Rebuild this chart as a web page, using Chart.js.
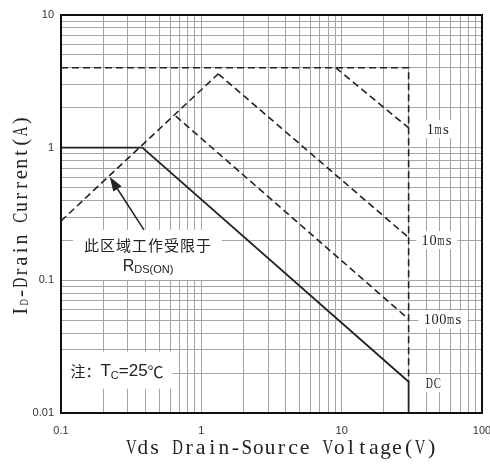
<!DOCTYPE html>
<html>
<head>
<meta charset="utf-8">
<script src="https://cdn.jsdelivr.net/npm/chart.js@4"></script>
<style>
  html, body { margin: 0; padding: 0; background: #fff; }
  #wrap { width: 490px; height: 468px; position: relative; }
</style>
</head>
<body>
<div id="wrap"><canvas id="soaChart"></canvas></div>
<script>
// SOA curves (V in volts, I in amps)
const dcV = [0.1, 0.38, 30, 30];
const dcI = [1, 1, 0.0172, 0.01];
const rdsV = [0.1, 1.32];
const rdsI = [0.28, 3.6];
const limitV = [0.1, 30, 30];
const limitI = [4, 4, 0.0172];
const ms1V = [9.1, 30];
const ms1I = [4, 1.41];
const ms10V = [1.32, 30];
const ms10I = [3.6, 0.21];
const ms100V = [0.657, 30];
const ms100I = [1.73, 0.051];

const xTickLabels = [0.1, 1, 10, 100];
const yTickLabels = [0.01, 0.1, 1, 10];
const curveLabels = ["1ms", "10ms", "100ms", "DC"];

const toPts = (xs, ys) => xs.map((x, i) => ({ x: x, y: ys[i] }));

// grid lines at 1..9 of every decade
function decadeGrid(lo, hi) {
    const out = [];
    for (let p = lo; p < hi; p++) {
        for (let m = 1; m <= 9; m++) out.push(Number((m * Math.pow(10, p)).toPrecision(3)));
    }
    out.push(Number(Math.pow(10, hi).toPrecision(3)));
    return out;
}

const ink = "#222";
const serif = "'Liberation Serif', 'DejaVu Serif', serif";
const sans = "'Liberation Sans', Arial, sans-serif";
const cjk = "'Noto Sans CJK SC', sans-serif";

function line(label, xs, ys, dashed, width) {
    return {
        label: label,
        data: toPts(xs, ys),
        showLine: true,
        borderColor: ink,
        borderWidth: width || 1.6,
        borderDash: dashed ? [7, 4] : [],
        pointRadius: 0,
        fill: false,
        tension: 0
    };
}

// proportional runs (for subscripts)
function drawRuns(ctx, runs, x, y, align) {
    let w = 0;
    runs.forEach(r => { ctx.font = r.font; w += ctx.measureText(r.t).width; });
    let cx = align === "center" ? x - w / 2 : x;
    ctx.textBaseline = "middle";
    ctx.textAlign = "left";
    runs.forEach(r => {
        ctx.font = r.font;
        ctx.fillText(r.t, cx, y + (r.dy || 0));
        cx += ctx.measureText(r.t).width;
    });
}

// fixed-pitch serif text, every glyph squeezed into its cell (like SimSun latin)
function monoWidth(runs) {
    return runs.reduce((s, r) => s + r.t.length * r.pitch, 0);
}
function drawMono(ctx, runs, cx, cy) {
    let x = cx - monoWidth(runs) / 2;
    ctx.textAlign = "center";
    ctx.textBaseline = "middle";
    runs.forEach(r => {
        ctx.font = r.size + "px " + serif;
        for (const ch of r.t) {
            const w = ctx.measureText(ch).width;
            const s = Math.min(1, (r.pitch * 0.92) / w);
            ctx.save();
            ctx.translate(x + r.pitch / 2, cy + (r.dy || 0));
            ctx.scale(s, 1);
            ctx.fillText(ch, 0, 0);
            ctx.restore();
            x += r.pitch;
        }
    });
}

function whiteBox(ctx, x0, y0, x1, y1) {
    ctx.fillStyle = "#fff";
    ctx.fillRect(x0, y0, x1 - x0, y1 - y0);
}

const soaDecor = {
    id: "soaDecor",
    beforeDatasetsDraw(chart) {
        const { ctx, scales: { x, y } } = chart;
        ctx.save();

        // note about R_DS(on) limit
        const nx = x.getPixelForValue(0.417);
        const ny = y.getPixelForValue(0.185);
        whiteBox(ctx, nx - 75, ny - 15, nx + 74, ny + 35);
        ctx.fillStyle = ink;
        ctx.textAlign = "center";
        ctx.textBaseline = "middle";
        ctx.font = "15px " + cjk;
        ctx.letterSpacing = "1px";
        ctx.fillText("此区域工作受限于", nx, ny);
        ctx.letterSpacing = "0px";
        drawRuns(ctx, [
            { t: "R", font: "16px " + sans },
            { t: "DS(ON)", font: "11px " + sans, dy: 3 }
        ], nx, y.getPixelForValue(0.126), "center");

        // Tc note
        const tx = x.getPixelForValue(0.113);
        const ty = y.getPixelForValue(0.0205);
        whiteBox(ctx, tx - 6, ty - 20, tx + 104, ty + 17);
        ctx.fillStyle = ink;
        drawRuns(ctx, [
            { t: "注：", font: "15px " + cjk },
            { t: "T", font: "17px " + sans },
            { t: "C", font: "11px " + sans, dy: 4 },
            { t: "=25", font: "17px " + sans },
            { t: "℃", font: "16px " + cjk }
        ], tx + 2, ty, "left");

        // curve labels on the right
        const spots = [[48.6, 1.38], [47.7, 0.201], [52.6, 0.0507], [45, 0.0168]];
        curveLabels.forEach((t, i) => {
            const px = x.getPixelForValue(spots[i][0]);
            const py = y.getPixelForValue(spots[i][1]);
            const w = t.length * 7.8;
            whiteBox(ctx, px - w / 2 - 5, py - 9, px + w / 2 + 5, py + 9);
            ctx.fillStyle = ink;
            drawMono(ctx, [{ t: t, size: 15, pitch: 7.8 }], px, py + 1);
        });
        ctx.restore();
    },
    afterDatasetsDraw(chart) {
        const { ctx, chartArea: a, scales: { x, y } } = chart;
        ctx.save();

        // arrow pointing at the R_DS(on) line
        const x0 = x.getPixelForValue(0.39), y0 = y.getPixelForValue(0.24);
        const x1 = x.getPixelForValue(0.223), y1 = y.getPixelForValue(0.6);
        const ang = Math.atan2(y1 - y0, x1 - x0);
        ctx.strokeStyle = ink;
        ctx.fillStyle = ink;
        ctx.lineWidth = 1.5;
        ctx.beginPath();
        ctx.moveTo(x0, y0);
        ctx.lineTo(x1 - 10 * Math.cos(ang), y1 - 10 * Math.sin(ang));
        ctx.stroke();
        ctx.beginPath();
        ctx.moveTo(x1, y1);
        ctx.lineTo(x1 - 14 * Math.cos(ang) + 5 * Math.sin(ang), y1 - 14 * Math.sin(ang) - 5 * Math.cos(ang));
        ctx.lineTo(x1 - 14 * Math.cos(ang) - 5 * Math.sin(ang), y1 - 14 * Math.sin(ang) + 5 * Math.cos(ang));
        ctx.closePath();
        ctx.fill();

        // frame
        ctx.strokeStyle = "#111";
        ctx.lineWidth = 2;
        ctx.strokeRect(a.left, a.top, a.right - a.left, a.bottom - a.top);

        // x axis title
        ctx.fillStyle = ink;
        drawMono(ctx, [{ t: "Vds Drain-Source Voltage(V)", size: 22, pitch: 11.55 }],
            (a.left + a.right) / 2 + 10, 448);

        // y axis title with subscript
        ctx.translate(21.5, (a.top + a.bottom) / 2 + 2);
        ctx.rotate(-Math.PI / 2);
        drawMono(ctx, [
            { t: "I", size: 21, pitch: 10.8 },
            { t: "D", size: 13, pitch: 7, dy: 3 },
            { t: "-Drain Current(A)", size: 21, pitch: 10.8 }
        ], 0, 0);
        ctx.restore();
    }
};

document.addEventListener("DOMContentLoaded", () => {
    const ctx = document.getElementById("soaChart").getContext("2d");
    const xGrid = decadeGrid(-1, 2);
    const yGrid = decadeGrid(-2, 1);

    new Chart(ctx, {
        type: "scatter",
        data: {
            datasets: [
                line("DC", dcV, dcI, false, 1.8),
                line("RDS(on)", rdsV, rdsI, true),
                line("limit", limitV, limitI, true),
                line("1ms", ms1V, ms1I, true),
                line("10ms", ms10V, ms10I, true),
                line("100ms", ms100V, ms100I, true)
            ]
        },
        options: {
            responsive: true,
            maintainAspectRatio: false,
            animation: false,
            layout: { padding: { top: 15, right: 8, left: 0, bottom: 0 } },
            plugins: {
                legend: { display: false },
                tooltip: { enabled: false }
            },
            scales: {
                x: {
                    type: "logarithmic",
                    min: 0.1,
                    max: 100,
                    afterBuildTicks: s => { s.ticks = xGrid.map(v => ({ value: v })); },
                    afterFit: s => { s.height = 55; s.paddingLeft = 0; s.paddingRight = 0; },
                    border: { display: false },
                    grid: { color: "#a4a4a4", lineWidth: 1, drawTicks: false },
                    ticks: {
                        autoSkip: false,
                        maxRotation: 0,
                        padding: 11,
                        color: "#333",
                        font: { family: sans, size: 11 },
                        callback: v => xTickLabels.includes(v) ? String(v) : ""
                    }
                },
                y: {
                    type: "logarithmic",
                    min: 0.01,
                    max: 10,
                    afterBuildTicks: s => { s.ticks = yGrid.map(v => ({ value: v })); },
                    afterFit: s => { s.width = 61; },
                    border: { display: false },
                    grid: { color: "#a4a4a4", lineWidth: 1, drawTicks: false },
                    ticks: {
                        autoSkip: false,
                        padding: 7,
                        color: "#333",
                        font: { family: sans, size: 11 },
                        callback: v => yTickLabels.includes(v) ? String(v) : ""
                    }
                }
            }
        },
        plugins: [soaDecor]
    });
});
</script>
</body>
</html>
